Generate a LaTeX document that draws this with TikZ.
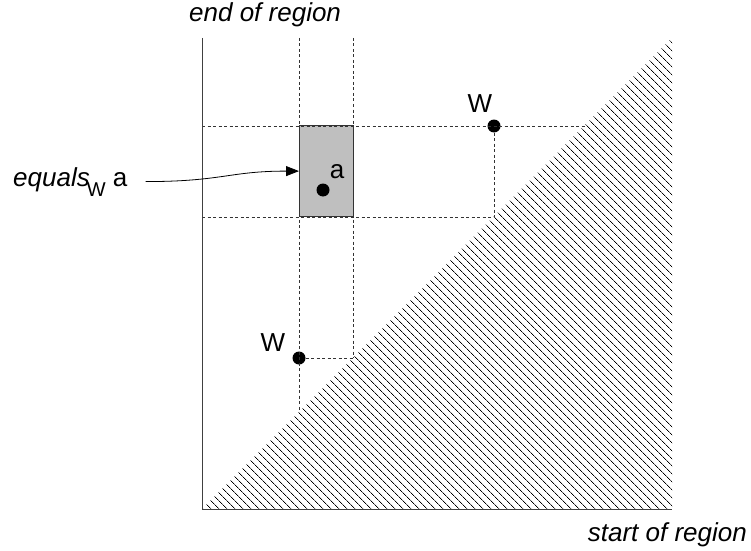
\documentclass[tikz,border=0pt]{standalone}
\usepackage{fontspec}
\setmainfont{Liberation Sans}
\usetikzlibrary{arrows.meta,patterns.meta}
\begin{document}
\begin{tikzpicture}[x=1pt, y=1pt, font=\fontsize{26}{31}\selectfont,
          >={Triangle[length=13pt,width=10pt]},
          axis/.style={draw=black!75, line width=0.9pt},
          guide/.style={draw=black!80, line width=0.8pt, dash pattern=on 3pt off 2.5pt},
          dot/.style={circle, fill=black, inner sep=0pt, minimum size=13pt},
          cell/.style={draw=black!80, fill=black!25, line width=0.8pt, inner sep=0pt,
                       minimum width=54pt, minimum height=91pt, anchor=south west},
          lbl/.style={inner sep=0pt, font=\fontsize{26}{31}\selectfont\itshape}]
        \useasboundingbox (-202,-41) rectangle (549,509);
        % corners of the plane
        \coordinate (O) at (0,0);
        \coordinate (S) at (470,0);
        \coordinate (E) at (0,471);
        \coordinate (D) at (470,471);
        % points where the guides meet the diagonal
        \coordinate (d1) at (97,97);
        \coordinate (d2) at (151,151);
        \coordinate (d3) at (292,292);
        \coordinate (d4) at (383,383);
        \fill[pattern={Lines[angle=-45,distance=5.4pt,line width=0.6pt]}] (O) -- (S) -- (D) -- cycle;
        \node[cell] (ab) at (97,292) {};
        \node[dot] (w1) at (97,151) {};
        \node[dot] (w2) at (292,383) {};
        \node[dot] (pa) at (121,319) {};
        \draw[guide] (w1 |- E) -- (d1);
        \draw[guide] (d2 |- E) -- (d2);
        \draw[guide] (E |- w2) -- (d4);
        \draw[guide] (E |- d3) -- (d3);
        \draw[guide] (w2) -- (d3);
        \draw[guide] (w1) -- (d2);
        \draw[axis] (E) -- (O) -- (S);
        \node (la) at (135,337) {a};
        \node (lw1) at (71,166) {W};
        \node (lw2) at (278,405) {W};
        \node[lbl, anchor=base west] (ey) at (-13,487) {end of region};
        \node[lbl, anchor=base east] (sx) at (545,-32) {start of region};
        \node[anchor=base west, inner sep=0pt] (eq) at (-189,323)
          {\textit{equals}\kern-3pt\raisebox{-10pt}{\fontsize{20}{20}\selectfont W}\ a};
        \draw[->, line width=0.8pt, shorten <=18pt] (eq.east) .. controls +(95,0) and +(-70,0) .. (ab.west);
      \end{tikzpicture}
\end{document}
